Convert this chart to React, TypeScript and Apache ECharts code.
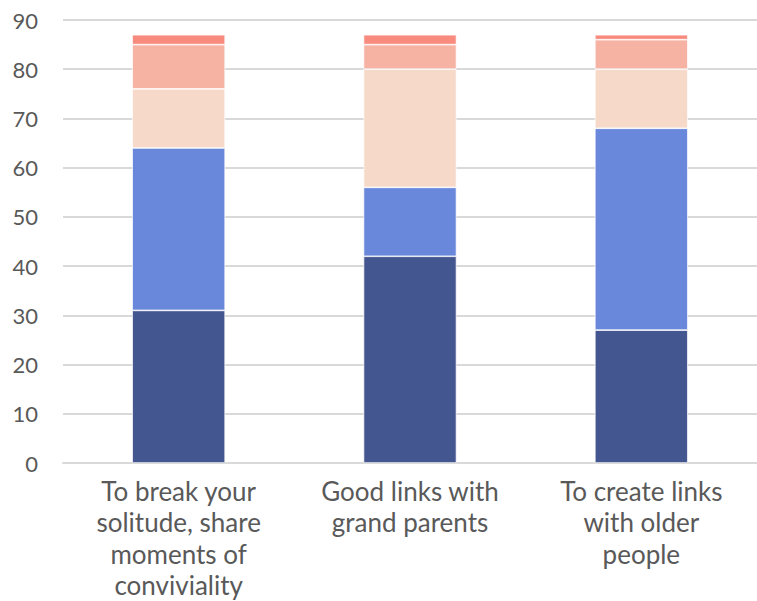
import React, { useEffect, useRef } from "react";
import * as echarts from "echarts";

const categories = [
  "To break your\nsolitude, share\nmoments of\nconviviality",
  "Good links with\ngrand parents",
  "To create links\nwith older\npeople",
];
const seriesNames = ["Series 1", "Series 2", "Series 3", "Series 4", "Series 5"];
const s1 = [31, 42, 27];
const s2 = [33, 14, 41];
const s3 = [12, 24, 12];
const s4 = [9, 5, 6];
const s5 = [2, 2, 1];
const colors = ["#44568F", "#6987DB", "#F6D9C8", "#F6B2A3", "#F88A7E"];

export default function App() {
  const ref = useRef<HTMLDivElement>(null);
  useEffect(() => {
    if (!ref.current) return;
    const chart = echarts.init(ref.current, undefined, { renderer: "svg" });
    const data = [s1, s2, s3, s4, s5];
    chart.setOption({
      animation: false,
      grid: { left: 63, top: 20, width: 697, height: 443, containLabel: false },
      xAxis: {
        type: "category",
        data: categories,
        axisTick: { show: false },
        axisLine: { lineStyle: { color: "#D9D9D9", width: 2 } },
        axisLabel: {
          color: "#595959",
          fontSize: 26,
          fontFamily: "Lato",
          lineHeight: 31.5,
          margin: 12,
          interval: 0,
        },
      },
      yAxis: {
        type: "value",
        min: 0,
        max: 90,
        interval: 10,
        axisLine: { show: false },
        axisTick: { show: false },
        splitLine: { lineStyle: { color: "#D9D9D9", width: 2 } },
        axisLabel: { color: "#595959", fontSize: 22, fontFamily: "Lato", margin: 25 },
      },
      series: data.map((d, i) => ({
        name: seriesNames[i],
        type: "bar",
        stack: "total",
        data: d,
        barWidth: 93,
        itemStyle: { color: colors[i], borderColor: "#ffffff", borderWidth: 0.7 },
      })),
    });
    return () => chart.dispose();
  }, []);
  return (
    <div
      ref={ref}
      style={{ position: "absolute", left: 0, top: 0, width: 757, height: 601, background: "#fff" }}
    />
  );
}
